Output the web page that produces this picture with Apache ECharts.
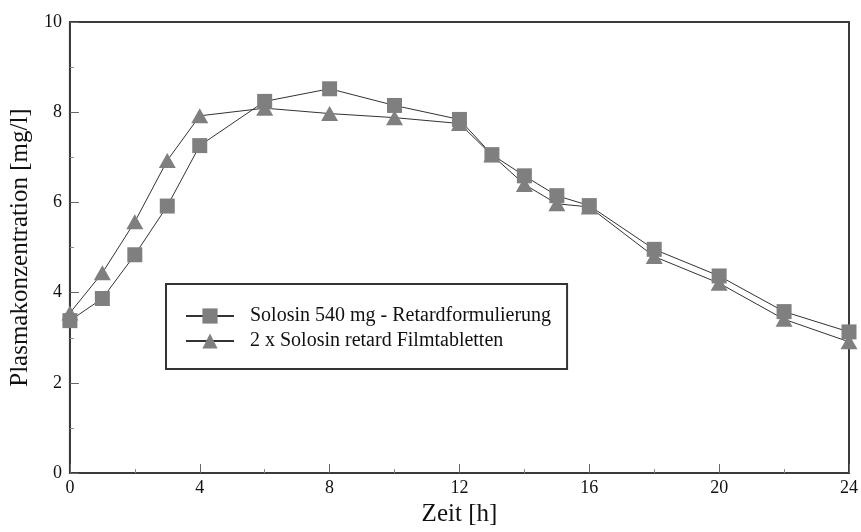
<!DOCTYPE html>
<html>
<head>
<meta charset="utf-8">
<script src="https://cdn.jsdelivr.net/npm/echarts@6/dist/echarts.min.js"></script>
<style>
html,body{margin:0;padding:0;background:#fff;}
#c{width:861px;height:532px;}
</style>
</head>
<body>
<div id="c"></div>
<script>
var times = [0, 1, 2, 3, 4, 6, 8, 10, 12, 13, 14, 15, 16, 18, 20, 22, 24];
var retard540 = [3.38, 3.87, 4.84, 5.92, 7.26, 8.24, 8.52, 8.15, 7.84, 7.06, 6.59, 6.15, 5.93, 4.96, 4.37, 3.58, 3.13];
var filmtabletten = [3.55, 4.44, 5.57, 6.93, 7.92, 8.09, 7.97, 7.88, 7.75, 7.05, 6.40, 5.97, 5.90, 4.80, 4.21, 3.41, 2.91];
var seriesNames = ['Solosin 540 mg - Retardformulierung', '2 x Solosin retard Filmtabletten'];
var xTitle = 'Zeit [h]';
var yTitle = 'Plasmakonzentration [mg/l]';

function pairs(xs, ys) { return xs.map(function (x, i) { return [x, ys[i]]; }); }

var font = 'Liberation Serif';
var chart = echarts.init(document.getElementById('c'), null, {renderer: 'canvas'});
chart.setOption({
  animation: false,
  backgroundColor: '#ffffff',
  textStyle: {fontFamily: font},
  grid: {left: 68, right: 9, top: 22, bottom: 51, show: true, borderColor: '#3a3a3a', borderWidth: 2, backgroundColor: 'transparent'},
  legend: {
    left: 166, top: 284, orient: 'vertical',
    padding: [22, 16, 18, 19],
    itemWidth: 48, itemHeight: 19, itemGap: 5,
    borderColor: '#333', borderWidth: 2, backgroundColor: '#fff',
    textStyle: {fontFamily: font, fontSize: 20, color: '#111', padding: [0, 0, 0, 11]},
    data: seriesNames
  },
  xAxis: {
    type: 'value', min: 0, max: 24, interval: 4,
    name: xTitle, nameLocation: 'middle', nameGap: 27,
    nameTextStyle: {fontFamily: font, fontSize: 25, color: '#111'},
    axisLine: {show: true, lineStyle: {color: '#3a3a3a', width: 2}},
    axisTick: {show: true, inside: true, length: 9, lineStyle: {color: '#666'}},
    minorTick: {show: true, splitNumber: 2, length: 4, lineStyle: {color: '#888'}},
    axisLabel: {fontFamily: font, fontSize: 18, color: '#111', margin: 6},
    splitLine: {show: false}
  },
  yAxis: {
    type: 'value', min: 0, max: 10, interval: 2,
    name: yTitle, nameLocation: 'middle', nameGap: 32, nameRotate: 90,
    nameTextStyle: {fontFamily: font, fontSize: 25, color: '#111'},
    axisLine: {show: true, lineStyle: {color: '#3a3a3a', width: 2}},
    axisTick: {show: true, inside: true, length: 9, lineStyle: {color: '#666'}},
    minorTick: {show: true, splitNumber: 2, length: 4, lineStyle: {color: '#888'}},
    axisLabel: {fontFamily: font, fontSize: 18, color: '#111', margin: 8},
    splitLine: {show: false}
  },
  series: [
    {
      name: seriesNames[1], type: 'line', data: pairs(times, filmtabletten),
      symbol: 'triangle', symbolSize: [17, 15],
      itemStyle: {color: '#7f7f7f'},
      lineStyle: {color: '#333', width: 1},
      z: 2
    },
    {
      name: seriesNames[0], type: 'line', data: pairs(times, retard540),
      symbol: 'rect', symbolSize: 15,
      itemStyle: {color: '#7f7f7f'},
      lineStyle: {color: '#333', width: 1},
      z: 3
    }
  ]
});
</script>
</body>
</html>
